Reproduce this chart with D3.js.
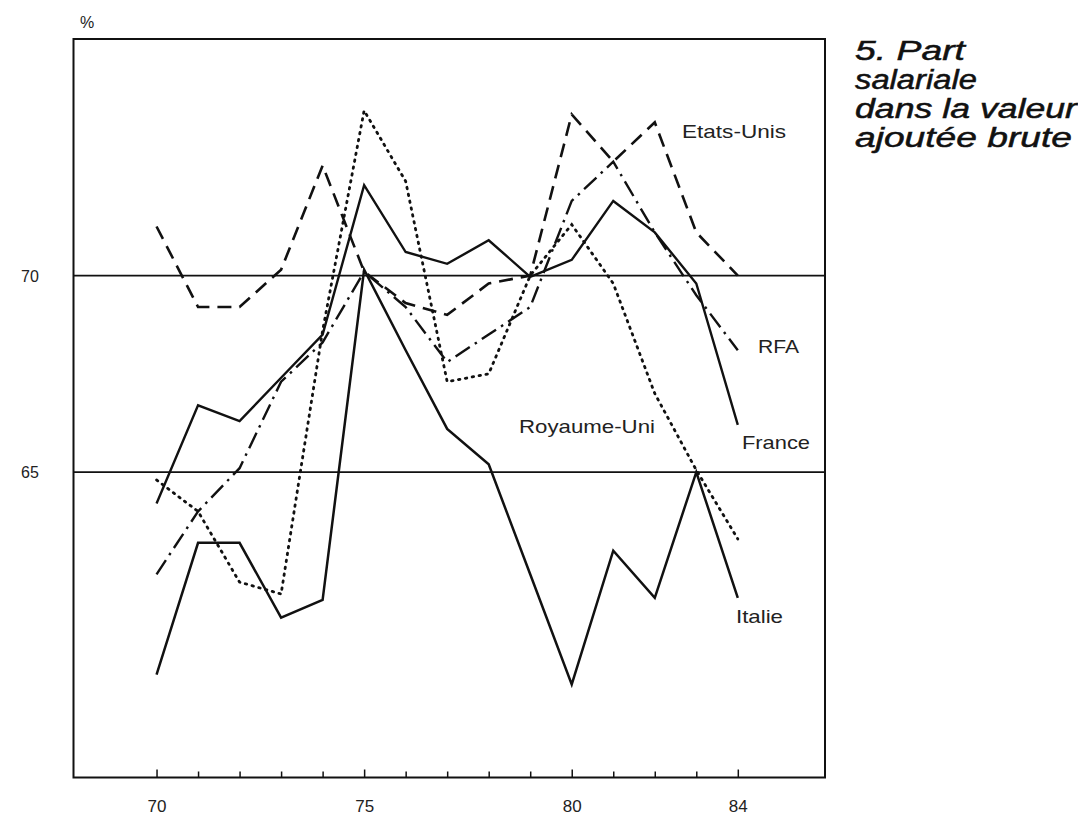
<!DOCTYPE html>
<html><head><meta charset="utf-8">
<script src="https://cdn.jsdelivr.net/npm/d3@7"></script>
<style>body{margin:0;background:#fff}svg{display:block}</style>
</head><body>
<script>
// ---- data ----
const years = [70,71,72,73,74,75,76,77,78,79,80,81,82,83,84];
const etatsUnis   = [71.25,69.2,69.2,70.15,72.8,70.1,69.3,69.0,69.8,70.0,74.1,72.9,73.9,71.1,70.0];
const rfa         = [62.4,64.0,65.1,67.3,68.3,70.1,69.2,67.8,68.5,69.2,71.9,72.9,71.1,69.5,68.1];
const france      = [64.2,66.7,66.3,67.4,68.5,72.3,70.6,70.3,70.9,69.97,70.4,71.9,71.1,69.8,66.2];
const royaumeUni  = [64.8,64.0,62.2,61.9,68.6,74.2,72.4,67.3,67.5,70.0,71.3,69.8,67.0,65.05,63.3];
const italie      = [59.85,63.2,63.2,61.3,61.75,70.15,68.1,66.1,65.2,62.4,59.6,63.0,61.8,65.0,61.8];
const xTickLabels = ["70","75","80","84"];
const yTickValues = [65,70];
const seriesNames = ["Etats-Unis","RFA","France","Royaume-Uni","Italie"];
const titleLines = ["5.  Part","salariale","dans la valeur","ajoutée brute"];

const W=1078,H=816;
const svg=d3.select("body").append("svg").attr("width",W).attr("height",H);
const L=73.5,R=825,T=39,B=777.5;
const x=d3.scaleLinear().domain([68,86.1]).range([L,R]);
const y=d3.scaleLinear().domain([57.23,76.02]).range([B,T]);
const FF="Liberation Sans, Arial, Helvetica, sans-serif";

// frame
svg.append("rect").attr("x",L).attr("y",T).attr("width",R-L).attr("height",B-T)
  .attr("fill","none").attr("stroke","#111").attr("stroke-width",2);
// gridlines
svg.selectAll("line.grid").data(yTickValues).join("line")
  .attr("x1",L).attr("x2",R).attr("y1",d=>y(d)).attr("y2",d=>y(d))
  .attr("stroke","#111").attr("stroke-width",1.6);
// y labels
svg.selectAll("text.yl").data(yTickValues).join("text")
  .attr("x",30).attr("y",d=>y(d)+6).attr("text-anchor","middle")
  .attr("font-family",FF).attr("font-size",16).attr("fill","#222")
  .text(d=>d);
svg.append("text").attr("x",87).attr("y",28).attr("text-anchor","middle")
  .attr("font-family",FF).attr("font-size",16).attr("fill","#222").text("%");

// x axis ticks
const xAxis=d3.axisBottom(x).tickValues(years).tickSize(-7).tickFormat(d=>xTickLabels.includes(String(d))?d:"");
const gx=svg.append("g").attr("transform",`translate(0,${B})`).call(xAxis);
gx.select(".domain").remove();
gx.selectAll(".tick line").attr("stroke","#111").attr("stroke-width",1.5).attr("y2",d=>(d%5===0||d===84)? -8:-6);
gx.selectAll(".tick text").attr("y",22).attr("font-family",FF)
  .attr("font-size",17).attr("fill","#222");

const line=d3.line().x((d,i)=>x(years[i])).y(d=>y(d));
const styles=[
  {data:etatsUnis,dash:"14,8",w:2.6},
  {data:rfa,dash:"17,6,2.5,6",w:2.4},
  {data:france,dash:null,w:2.4},
  {data:royaumeUni,dash:"1.5,5.5",w:2.8,cap:"round"},
  {data:italie,dash:null,w:2.5}
];
styles.forEach(s=>{
  svg.append("path").datum(s.data).attr("d",line).attr("fill","none")
    .attr("stroke","#111").attr("stroke-width",s.w)
    .attr("stroke-dasharray",s.dash).attr("stroke-linejoin","miter")
    .attr("stroke-linecap",s.cap||"butt");
});

// series labels
const labelPos=[
  {t:"Etats-Unis",x:682,y:138,w:104},
  {t:"RFA",x:758,y:353,w:41},
  {t:"France",x:742,y:449,w:68},
  {t:"Royaume-Uni",x:519,y:433,w:136},
  {t:"Italie",x:736,y:623,w:47}
];
svg.selectAll("text.sl").data(labelPos).join("text")
  .attr("x",d=>d.x).attr("y",d=>d.y).attr("textLength",d=>d.w).attr("lengthAdjust","spacingAndGlyphs")
  .attr("font-family",FF).attr("font-size",18.5).attr("fill","#222")
  .text(d=>d.t);

// title
const titleW=[110,122,222,217];
svg.selectAll("text.title").data(titleLines).join("text")
  .attr("x",855).attr("y",(d,i)=>60+i*29)
  .attr("textLength",(d,i)=>titleW[i]).attr("lengthAdjust","spacingAndGlyphs")
  .attr("font-family",FF).attr("font-size",27)
  .attr("font-style","italic").attr("font-weight","normal").attr("fill","#111")
  .style("stroke","#111").style("stroke-width",0.5)
  .text(d=>d);
</script>
</body></html>
